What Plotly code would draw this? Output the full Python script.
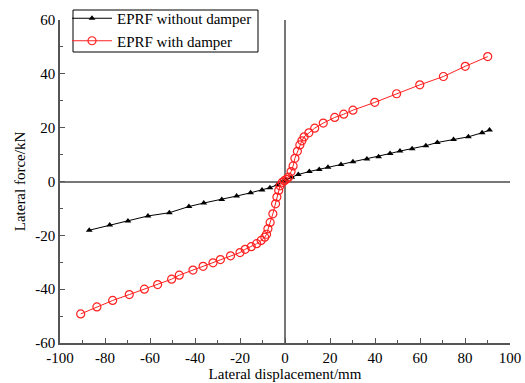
import plotly.graph_objects as go

red_x = [-90.8, -83.6, -76.6, -69.2, -62.5, -56.6, -50.4, -47.0, -40.9, -36.4, -32.0, -28.7,
         -24.2, -20.0, -17.7, -15.0, -12.6, -10.6, -9.0, -8.2, -7.6, -6.6, -5.4, -4.2, -3.6,
         -2.8, -2.2, -1.2, -0.3, 0.6, 1.6, 2.7, 3.6, 4.4, 5.5, 6.6, 7.5, 8.5, 10.6, 13.2, 17.0,
         22.1, 26.1, 30.2, 39.9, 49.6, 59.9, 70.4, 80.1, 90.1]
red_y = [-49.2, -46.6, -44.2, -42.0, -40.0, -38.3, -36.3, -34.8, -32.9, -31.5, -30.2, -29.0,
         -27.6, -26.4, -25.2, -24.2, -23.1, -21.9, -20.7, -19.6, -17.6, -15.2, -12.0, -8.3, -5.8,
         -3.3, -1.6, -0.3, 0.3, 0.8, 1.6, 3.7, 5.8, 8.6, 11.2, 13.6, 15.1, 16.6, 18.1, 19.8, 21.7,
         23.8, 25.0, 26.5, 29.4, 32.6, 35.9, 39.0, 42.8, 46.4]

black_x = [-87.0, -77.9, -69.8, -60.9, -51.4, -42.7, -36.1, -28.1, -21.5, -15.3, -10.2, -6.7,
           -3.4, -1.0, 0.4, 3.0, 5.9, 10.8, 15.2, 19.1, 24.9, 30.2, 36.4, 41.6, 46.7, 51.1,
           56.5, 62.6, 67.7, 74.9, 81.5, 87.6, 90.9]
black_y = [-18.1, -16.2, -14.7, -12.8, -11.6, -9.3, -8.0, -6.7, -5.4, -4.2, -3.2, -2.3,
           -1.2, 0.0, 0.6, 1.6, 2.6, 3.7, 4.5, 5.3, 6.3, 7.3, 8.4, 9.2, 10.4, 11.3,
           12.2, 13.3, 14.5, 15.6, 16.6, 18.1, 19.1]

x_ticks = [-100, -80, -60, -40, -20, 0, 20, 40, 60, 80, 100]
y_ticks = [-60, -40, -20, 0, 20, 40, 60]

font = "Liberation Serif, Times New Roman, serif"
axcol = "#555555"

fig = go.Figure()
fig.add_trace(go.Scatter(x=black_x, y=black_y, mode="lines+markers", name="EPRF without damper",
                         line=dict(color="black", width=1),
                         marker=dict(symbol="triangle-up", size=6, color="black")))
fig.add_trace(go.Scatter(x=red_x, y=red_y, mode="lines+markers", name="EPRF with damper",
                         line=dict(color="#ff2020", width=1),
                         marker=dict(symbol="circle-open", size=8, color="#ff2020", line=dict(width=1.2))))

# legend frame (paper coordinates)
fig.add_shape(type="rect", xref="paper", yref="paper",
              x0=13 / 450, x1=198 / 450, y0=1 - 32 / 323, y1=1 + 10 / 323,
              line=dict(color="black", width=1), fillcolor="rgba(0,0,0,0)", layer="above")

fig.update_layout(
    width=525, height=383,
    margin=dict(l=60, r=15, t=20, b=40, autoexpand=False),
    paper_bgcolor="white", plot_bgcolor="white",
    font=dict(family=font, size=15, color="black"),
    showlegend=True,
    legend=dict(x=7 / 450, y=1 + 18 / 323, xanchor="left", yanchor="top",
                borderwidth=0, bgcolor="rgba(0,0,0,0)",
                font=dict(family=font, size=15), tracegroupgap=0,
                itemwidth=40),
    xaxis=dict(range=[-100, 100], tickvals=x_ticks, ticktext=[str(v) for v in x_ticks],
               ticks="inside", ticklen=5, tickcolor=axcol, showline=True, linecolor=axcol,
               linewidth=1.5, showgrid=False, zeroline=True, zerolinecolor="#777777",
               zerolinewidth=1.5, mirror=False, automargin=False,
               minor=dict(ticks="inside", ticklen=3, dtick=10, tickcolor=axcol),
               title=dict(text="Lateral displacement/mm", standoff=0, font=dict(size=15)),
               tickfont=dict(size=15)),
    yaxis=dict(range=[-60, 60], tickvals=y_ticks, ticktext=[str(v) for v in y_ticks],
               ticks="inside", ticklen=5, tickcolor=axcol, showline=True, linecolor=axcol,
               linewidth=1.5, showgrid=False, zeroline=True, zerolinecolor="#777777",
               zerolinewidth=1.5, mirror=False, automargin=False,
               minor=dict(ticks="inside", ticklen=3, dtick=10, tickcolor=axcol),
               title=dict(text="Lateral force/kN", standoff=6, font=dict(size=15)),
               tickfont=dict(size=15)),
)

fig.write_html("out.html", config={"displayModeBar": False},
               post_script="document.body.style.margin='0';document.body.style.overflow='hidden';")
